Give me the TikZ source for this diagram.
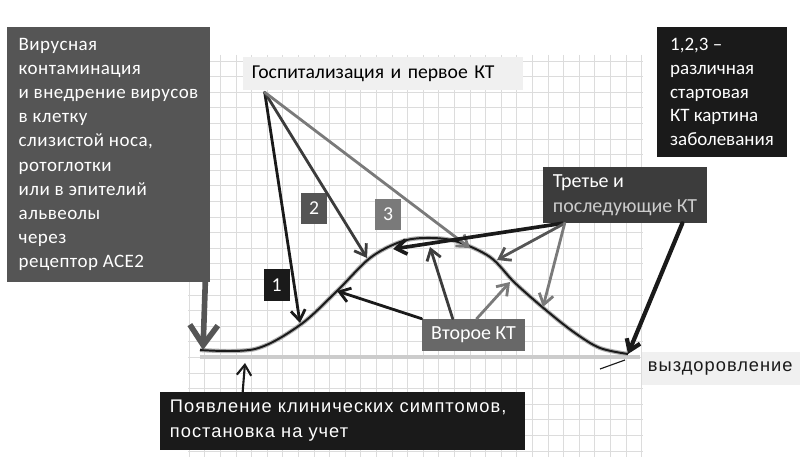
\documentclass[tikz,border=0pt]{standalone}
\usepackage{fontspec}
\setmainfont{Carlito}
\newfontfamily\widefont[LetterSpace=2.5]{Carlito}
\newfontfamily\arialfont[LetterSpace=5.5]{Liberation Sans}
\usetikzlibrary{arrows.meta,positioning}
\definecolor{ink}{HTML}{1A1A1A}
\definecolor{coal}{HTML}{3C3C3C}
\definecolor{graphite}{HTML}{555555}
\definecolor{smoke}{HTML}{7A7A7A}
\definecolor{mist}{HTML}{CCCCCC}
\definecolor{pale}{HTML}{F0F0F0}
\definecolor{gridgray}{HTML}{DCDCDC}
\tikzset{box/.style={align=left,text=white,inner sep=0pt,font=\fontsize{13.5}{17.2}\selectfont}, num/.style={box,align=center,minimum width=0.65cm,minimum height=0.775cm,font=\fontsize{14}{16}\selectfont}, gridline/.style={draw=gridgray,line width=0.5pt}, flow/.style={-{Straight Barb[length=2.6mm,width=3.6mm]},line width=2pt,line cap=round}, bigflow/.style={-{Straight Barb[length=5mm,width=7mm]},line width=4pt,line cap=round}, axisbar/.style={draw=mist,line width=3pt}}

\begin{document}
\begin{tikzpicture}[x=0.025cm,y=-0.025cm]
\fill[white] (0,0) rectangle (800,457);
\useasboundingbox (0,0) rectangle (800,457);
% graph paper
\foreach \k in {0,...,29} \draw[gridline] ({189.2+15.6*\k},55) -- ({189.2+15.6*\k},457);
\foreach \k in {0,...,25} \draw[gridline] (188,{451-15.6*\k}) -- (643,{451-15.6*\k});
% disease course
\draw[axisbar] (200,357) -- (640,357);
\draw[smoke!60,line width=3pt] plot[smooth,tension=0.55] coordinates {(200,350) (255,349) (300,325) (337,291) (370,258) (400,242) (425,238) (455,241) (490,257) (515,283) (547,311) (575,333) (600,348) (628,354)};
\draw[ink,line width=1.4pt] plot[smooth,tension=0.55] coordinates {(200,350) (255,349) (300,325) (337,291) (370,258) (400,242) (425,238) (455,241) (490,257) (515,283) (547,311) (575,333) (600,348) (628,354)};
\draw[ink,line width=0.8pt] (600,369) -- (625,360);
\coordinate (c1) at (300,323);
\coordinate (c2) at (367,258);
\coordinate (c3) at (470,248);
\coordinate (t1) at (393,249);
\coordinate (t2) at (497,260);
\coordinate (t3) at (543,307);
\coordinate (s1) at (337,291);
\coordinate (s2) at (430,247);
\coordinate (s3) at (510,282);
\coordinate (onset) at (203,350);
\coordinate (cure) at (628,354);
\coordinate (sym) at (245,363);
% labels
\node[box,fill=graphite,minimum width=5.075cm,minimum height=6.375cm,font=\widefont\fontsize{13.5}{17.2}\selectfont] (infect) at (108.5,154.5) {Вирусная\\контаминация\\и внедрение вирусов\\в клетку\\слизистой носа,\\ротоглотки\\или в эпителий\\альвеолы\\через\\рецептор ACE2};
\node[box,fill=ink,minimum width=3.25cm,minimum height=3.25cm,font=\fontsize{13.5}{17}\selectfont] (start) at (722,92) {1,2,3 –\\различная\\стартовая\\КТ картина\\заболевания};
\node[box,fill=pale,text=black,text width=6.55cm,inner xsep=0.225cm,minimum height=0.825cm,font=\fontsize{14}{16}\selectfont] (hosp) at (383,73.5) {Госпитализация и первое КТ};
\node[num,fill=graphite] (n2) at (314,208.5) {2};
\node[num,fill=smoke] (n3) at (388,214.5) {3};
\node[num,fill=ink] (n1) at (276.5,285) {1};
\node[box,fill=coal,minimum width=4.1cm,minimum height=1.4cm,font=\fontsize{14.2}{17.7}\selectfont] (third) at (625,195) {Третье и\\\textcolor{mist}{последующие КТ}};
\node[box,fill=smoke!85!black,minimum width=2.575cm,minimum height=0.8cm,font=\fontsize{14.2}{16}\selectfont] (second) at (473.5,335) {Второе КТ};
\node[box,fill=ink,text width=8.625cm,inner xsep=0.25cm,minimum height=1.45cm,font=\arialfont\fontsize{13}{17.7}\selectfont] (symptoms) at (342.5,421) {Появление клинических симптомов,\\постановка на учет};
\node[box,fill=pale,text=ink,text width=3.65cm,inner xsep=0.15cm,minimum height=0.825cm,font=\arialfont\fontsize{13}{16}\selectfont] (cured) at (721,368.5) {выздоровление};
% arrows
\draw[flow,draw=ink] ([xshift=0.55cm,yshift=-0.05cm]hosp.south west) -- (c1);
\draw[flow,draw=ink!85] ([xshift=0.55cm,yshift=-0.05cm]hosp.south west) -- (c2);
\draw[flow,draw=smoke] ([xshift=0.55cm,yshift=-0.05cm]hosp.south west) -- (c3);
\draw[flow,draw=ink,line width=2.6pt] ([xshift=0.5cm]third.south west) -- (t1);
\draw[flow,draw=graphite] ([xshift=0.55cm]third.south west) -- (t2);
\draw[flow,draw=smoke] ([xshift=0.55cm]third.south west) -- (t3);
\draw[flow,draw=ink,line width=3pt] ([xshift=-0.625cm]third.south east) -- (cure);
\draw[flow,draw=ink] (second.north west) -- (s1);
\draw[flow,draw=coal] ([xshift=0.775cm]second.north west) -- (s2);
\draw[flow,draw=smoke] ([xshift=1.375cm]second.north west) -- (s3);
\draw[bigflow,draw=graphite] ([xshift=-0.125cm]infect.south east) -- (onset);
\draw[flow,draw=ink,line width=1.5pt] ([xshift=2.075cm]symptoms.north west) -- (sym);
\end{tikzpicture}
\end{document}
